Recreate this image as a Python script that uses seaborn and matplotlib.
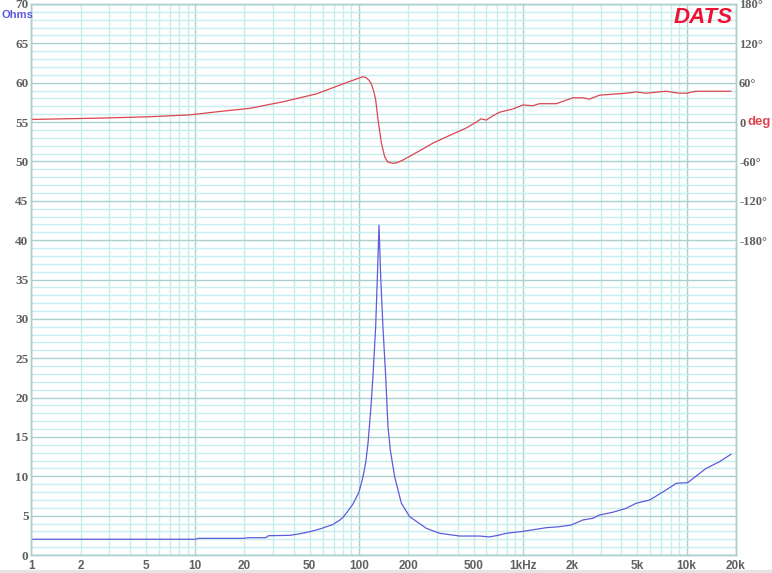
import numpy as np
import pandas as pd
import matplotlib
matplotlib.use("Agg")
import matplotlib.pyplot as plt
from matplotlib.patches import Rectangle
import seaborn as sns

# Impedance magnitude (Ohms)
imp_freq = [1, 10, 10.5, 20, 21, 27, 28, 38, 43.5, 50, 57.5, 69, 76, 80, 85, 92,
            100, 105.8, 110, 113.5, 117.9, 121.7, 126.4, 129.5, 132.5, 135.6, 140,
            145.5, 150.3, 155.4, 165, 181.4, 203.8, 257.6, 310.6, 411, 544, 628,
            721, 792, 1000, 1389, 1674, 1973, 2325, 2672, 2936, 3538, 4270, 4914,
            5950, 7200, 8650, 10140, 13130, 15850, 18650]
imp_ohms = [2.0, 2.0, 2.12, 2.12, 2.2, 2.2, 2.45, 2.5, 2.7, 2.95, 3.3, 3.85, 4.4, 4.8,
            5.5, 6.5, 8.0, 9.95, 11.8, 14.2, 18.4, 22.7, 29.0, 35.4, 41.9, 35.4, 29.0,
            22.7, 16.3, 13.3, 9.95, 6.57, 4.87, 3.39, 2.76, 2.41, 2.41, 2.3, 2.54,
            2.76, 3.0, 3.47, 3.6, 3.81, 4.45, 4.66, 5.08, 5.43, 5.93, 6.57, 6.99,
            8.04, 9.11, 9.19, 11.0, 11.85, 12.8]

# Phase (degrees)
ph_freq = [1, 2.6, 5.1, 9.3, 14, 21.6, 34.5, 55, 87.8, 100, 105.7, 110, 115, 119,
           123, 126.4, 130.6, 137, 143.5, 150, 161, 170, 185, 230, 283, 360, 452,
           520, 557, 598, 650, 721, 869, 1000, 1151, 1265, 1600, 2018, 2325, 2552,
           2936, 4270, 4910, 5650, 7480, 9020, 10000, 11400, 18650]
ph_deg = [4, 6, 8, 11, 16, 21, 31, 43, 62, 67, 69, 68, 64, 58, 47, 34, 4, -32,
          -53, -61, -63, -62, -58, -45, -32, -20, -9, 0, 5, 3, 9, 15, 20, 26, 25,
          28, 28, 37, 37, 35, 41, 44, 46, 44, 47, 44, 44, 47, 47]

x_major = [1, 10, 100, 1000, 10000]
x_major_labels = ["1", "10", "100", "1kHz", "10k"]
x_minor_labels = {2: "2", 5: "5", 20: "20", 50: "50", 200: "200", 500: "500",
                  2000: "2k", 5000: "5k", 20000: "20k"}
ph_ticks = [-180, -120, -60, 0, 60, 120, 180]
ph_labels = ["-180°", "-120°", "-60°", "0", "60°", "120°", "180°"]

imp = pd.DataFrame({"freq": imp_freq, "ohms": imp_ohms})
ph = pd.DataFrame({"freq": ph_freq, "deg": ph_deg})

sns.set_style("white")

grid_light = "#c6eeee"
grid_dark = "#acd0ce"
label_gray = "#606060"
blue = "#5c5cdc"
red = "#dc4650"

fig = plt.figure(figsize=(7.72, 5.73), dpi=100)
ax = fig.add_axes([31.3 / 772, (573 - 555) / 573, 704.7 / 772, 551 / 573])
ax2 = ax.twinx()

sns.lineplot(data=imp, x="freq", y="ohms", ax=ax, color=blue, linewidth=0.9,
             estimator=None, sort=False)
sns.lineplot(data=ph, x="freq", y="deg", ax=ax2, color=red, linewidth=0.9,
             estimator=None, sort=False)

ax.set_xscale("log")
ax.set_xlim(1, 20000)
ax.set_ylim(0, 70)
# phase scale: 12 deg per ohm, 0 deg sits at 55 ohms
ax2.set_ylim((0 - 55) * 12, (70 - 55) * 12)

minor_x = [m * 10 ** d for d in range(5) for m in range(2, 10) if m * 10 ** d <= 20000]
ax.set_xticks(x_major, x_major_labels)
ax.set_xticks(minor_x, [x_minor_labels.get(v, "") for v in minor_x], minor=True)
ax.set_yticks(range(0, 71, 5))
ax.set_yticks(range(0, 71, 1), minor=True)
ax.set_xlabel("")
ax.set_ylabel("")
ax2.set_ylabel("")

ax.grid(which="major", color=grid_dark, linewidth=1.0)
ax.grid(which="minor", color=grid_light, linewidth=1.0)
ax.set_axisbelow(True)

ax.tick_params(axis="both", which="both", length=0)
ax.tick_params(axis="x", which="both", pad=3.5, labelcolor=label_gray)
ax.tick_params(axis="y", pad=2.0, labelcolor=label_gray)
for lab in ax.get_xticklabels(minor=False) + ax.get_xticklabels(minor=True):
    lab.set_fontfamily("Liberation Sans")
    lab.set_fontweight("bold")
    lab.set_fontsize(8.5)
for lab in ax.get_yticklabels():
    lab.set_fontfamily("Liberation Serif")
    lab.set_fontweight("bold")
    lab.set_fontsize(9.5)

ax2.set_yticks(ph_ticks, ph_labels)
ax2.tick_params(axis="y", length=0, pad=2.2, labelcolor=label_gray)
for lab in ax2.get_yticklabels():
    lab.set_fontfamily("Liberation Serif")
    lab.set_fontweight("bold")
    lab.set_fontsize(9)
ax2.grid(False)

ax2.text(1.017, 0, "deg", transform=ax2.get_yaxis_transform(), color=red,
         fontsize=9.5, fontweight="bold", family="Liberation Sans", va="center", ha="left")
fig.text(1 / 772, 1 - 15.5 / 573, "Ohms", color="#5a5ae0", fontsize=8,
         fontweight="bold", family="Liberation Sans", va="center", ha="left")
ax.text(0.996, 0.975, "DATS", transform=ax.transAxes, color="#ee1133", fontsize=16,
        fontweight="bold", fontstyle="italic", family="Liberation Sans",
        va="center", ha="right")

for sp in list(ax.spines.values()) + list(ax2.spines.values()):
    sp.set_color(grid_dark)
    sp.set_linewidth(1.0)

fig.add_artist(Rectangle((0, 0), 1, 3 / 573, transform=fig.transFigure,
                         color="#e4e4e4", zorder=0))

fig.savefig("out.png", dpi=100)
